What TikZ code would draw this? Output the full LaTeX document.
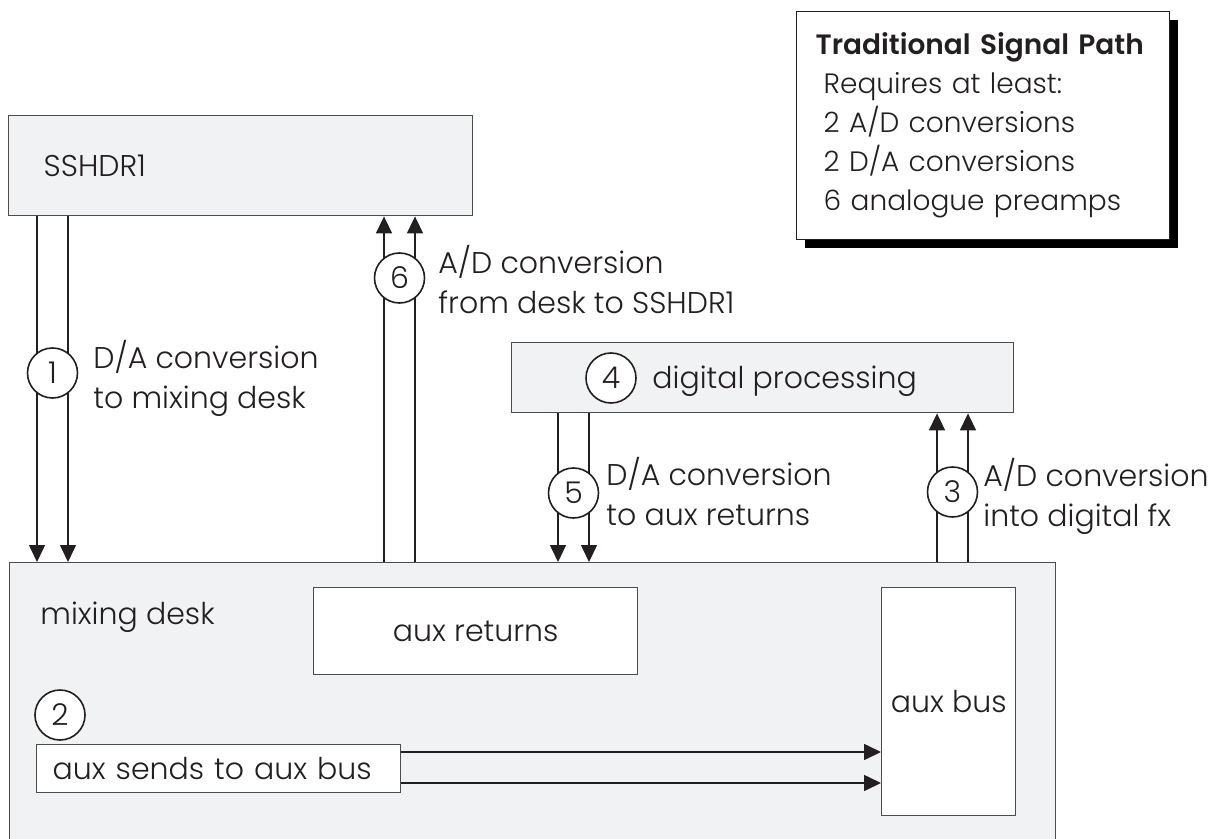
\documentclass[tikz,border=0pt]{standalone}
\usepackage{fontspec}
\setmainfont{Poppins}[UprightFont=* Light, BoldFont=* SemiBold]
\usetikzlibrary{arrows.meta,shadows}
\definecolor{deskgray}{RGB}{241,242,244}
\definecolor{ink}{RGB}{35,31,32}
\tikzset{
	block/.style={draw=black!70, line width=0.7pt, fill=deskgray, anchor=north west, inner sep=0pt},
	inblock/.style={draw=black!70, line width=0.7pt, fill=white, anchor=north west, inner sep=0pt},
	num/.style={circle, draw=ink, line width=0.8pt, fill=white, minimum size=25pt, inner sep=0pt},
	sig/.style={draw=ink, line width=0.8pt, -{Triangle[length=8.5pt,width=8pt]}},
	lbl/.style={anchor=west, align=left, inner sep=0pt}
}

\begin{document}
\begin{tikzpicture}[x=0.5pt, y=-0.5pt, font=\fontsize{15}{20}\selectfont, text=ink]
	\clip (0,0) rectangle (1225,839);

	\node[block, minimum width=232pt, minimum height=50pt, text width=197pt, inner xsep=17.5pt, align=left] (sshdr) at (8,115) {SSHDR1};
	\node[block, minimum width=251pt, minimum height=35pt] (dproc) at (511,342) {};
	\node[block, minimum width=523pt, minimum height=160pt] (mix) at (9,562) {};
	\node[lbl] (mixtxt) at (40,617) {mixing desk};
	\node[inblock, minimum width=162pt, minimum height=43.5pt] (auxret) at (313,587) {aux returns};
	\node[inblock, minimum width=67pt, minimum height=114pt] (auxbus) at (881,587) {aux bus};
	\node[inblock, minimum height=24pt, text width=166pt, inner xsep=8pt, align=left] (auxsend) at (36,744) {aux sends to aux bus};

	\node[inblock, draw=ink, minimum width=186.5pt, minimum height=114pt, text width=167.5pt, inner xsep=9.5pt, align=left,
		drop shadow={shadow xshift=4pt, shadow yshift=-4pt, fill=black, opacity=1},
		font=\fontsize{14}{19.5}\selectfont] (legend) at (796,11) {%
		{\bfseries Traditional Signal Path}\\
		\hspace*{4pt}Requires at least:\\
		\hspace*{4pt}2 A/D conversions\\
		\hspace*{4pt}2 D/A conversions\\
		\hspace*{4pt}6 analogue preamps};

	\foreach \x in {37,68} \draw[sig] (sshdr.south -| \x,0) -- (mix.north -| \x,0);
	\foreach \x in {384,415} \draw[sig] (mix.north -| \x,0) -- (sshdr.south -| \x,0);
	\foreach \x in {558,589} \draw[sig] (dproc.south -| \x,0) -- (mix.north -| \x,0);
	\foreach \x in {937,968} \draw[sig] (mix.north -| \x,0) -- (dproc.south -| \x,0);
	\foreach \y in {752,783} \draw[sig] (auxsend.east |- 0,\y) -- (auxbus.west |- 0,\y);

	\node[num] (n1) at (52.5,373) {1};
	\node[num] (n2) at (60,715) {2};
	\node[num] (n3) at (952.5,492) {3};
	\node[num] (n4) at (611,378) {4};
	\node[num] (n5) at (573.5,493) {5};
	\node[num] (n6) at (399.5,278) {6};

	\node[lbl] (l1) at (93,378) {D/A conversion\\to mixing desk};
	\node[lbl] (l6) at (438,280) {A/D conversion\\from desk to SSHDR1};
	\node[lbl] (l4) at (652,381) {digital processing};
	\node[lbl] (l5) at (606,492) {D/A conversion\\to aux returns};
	\node[lbl] (l3) at (983,496) {A/D conversion\\into digital fx};
\end{tikzpicture}
\end{document}
